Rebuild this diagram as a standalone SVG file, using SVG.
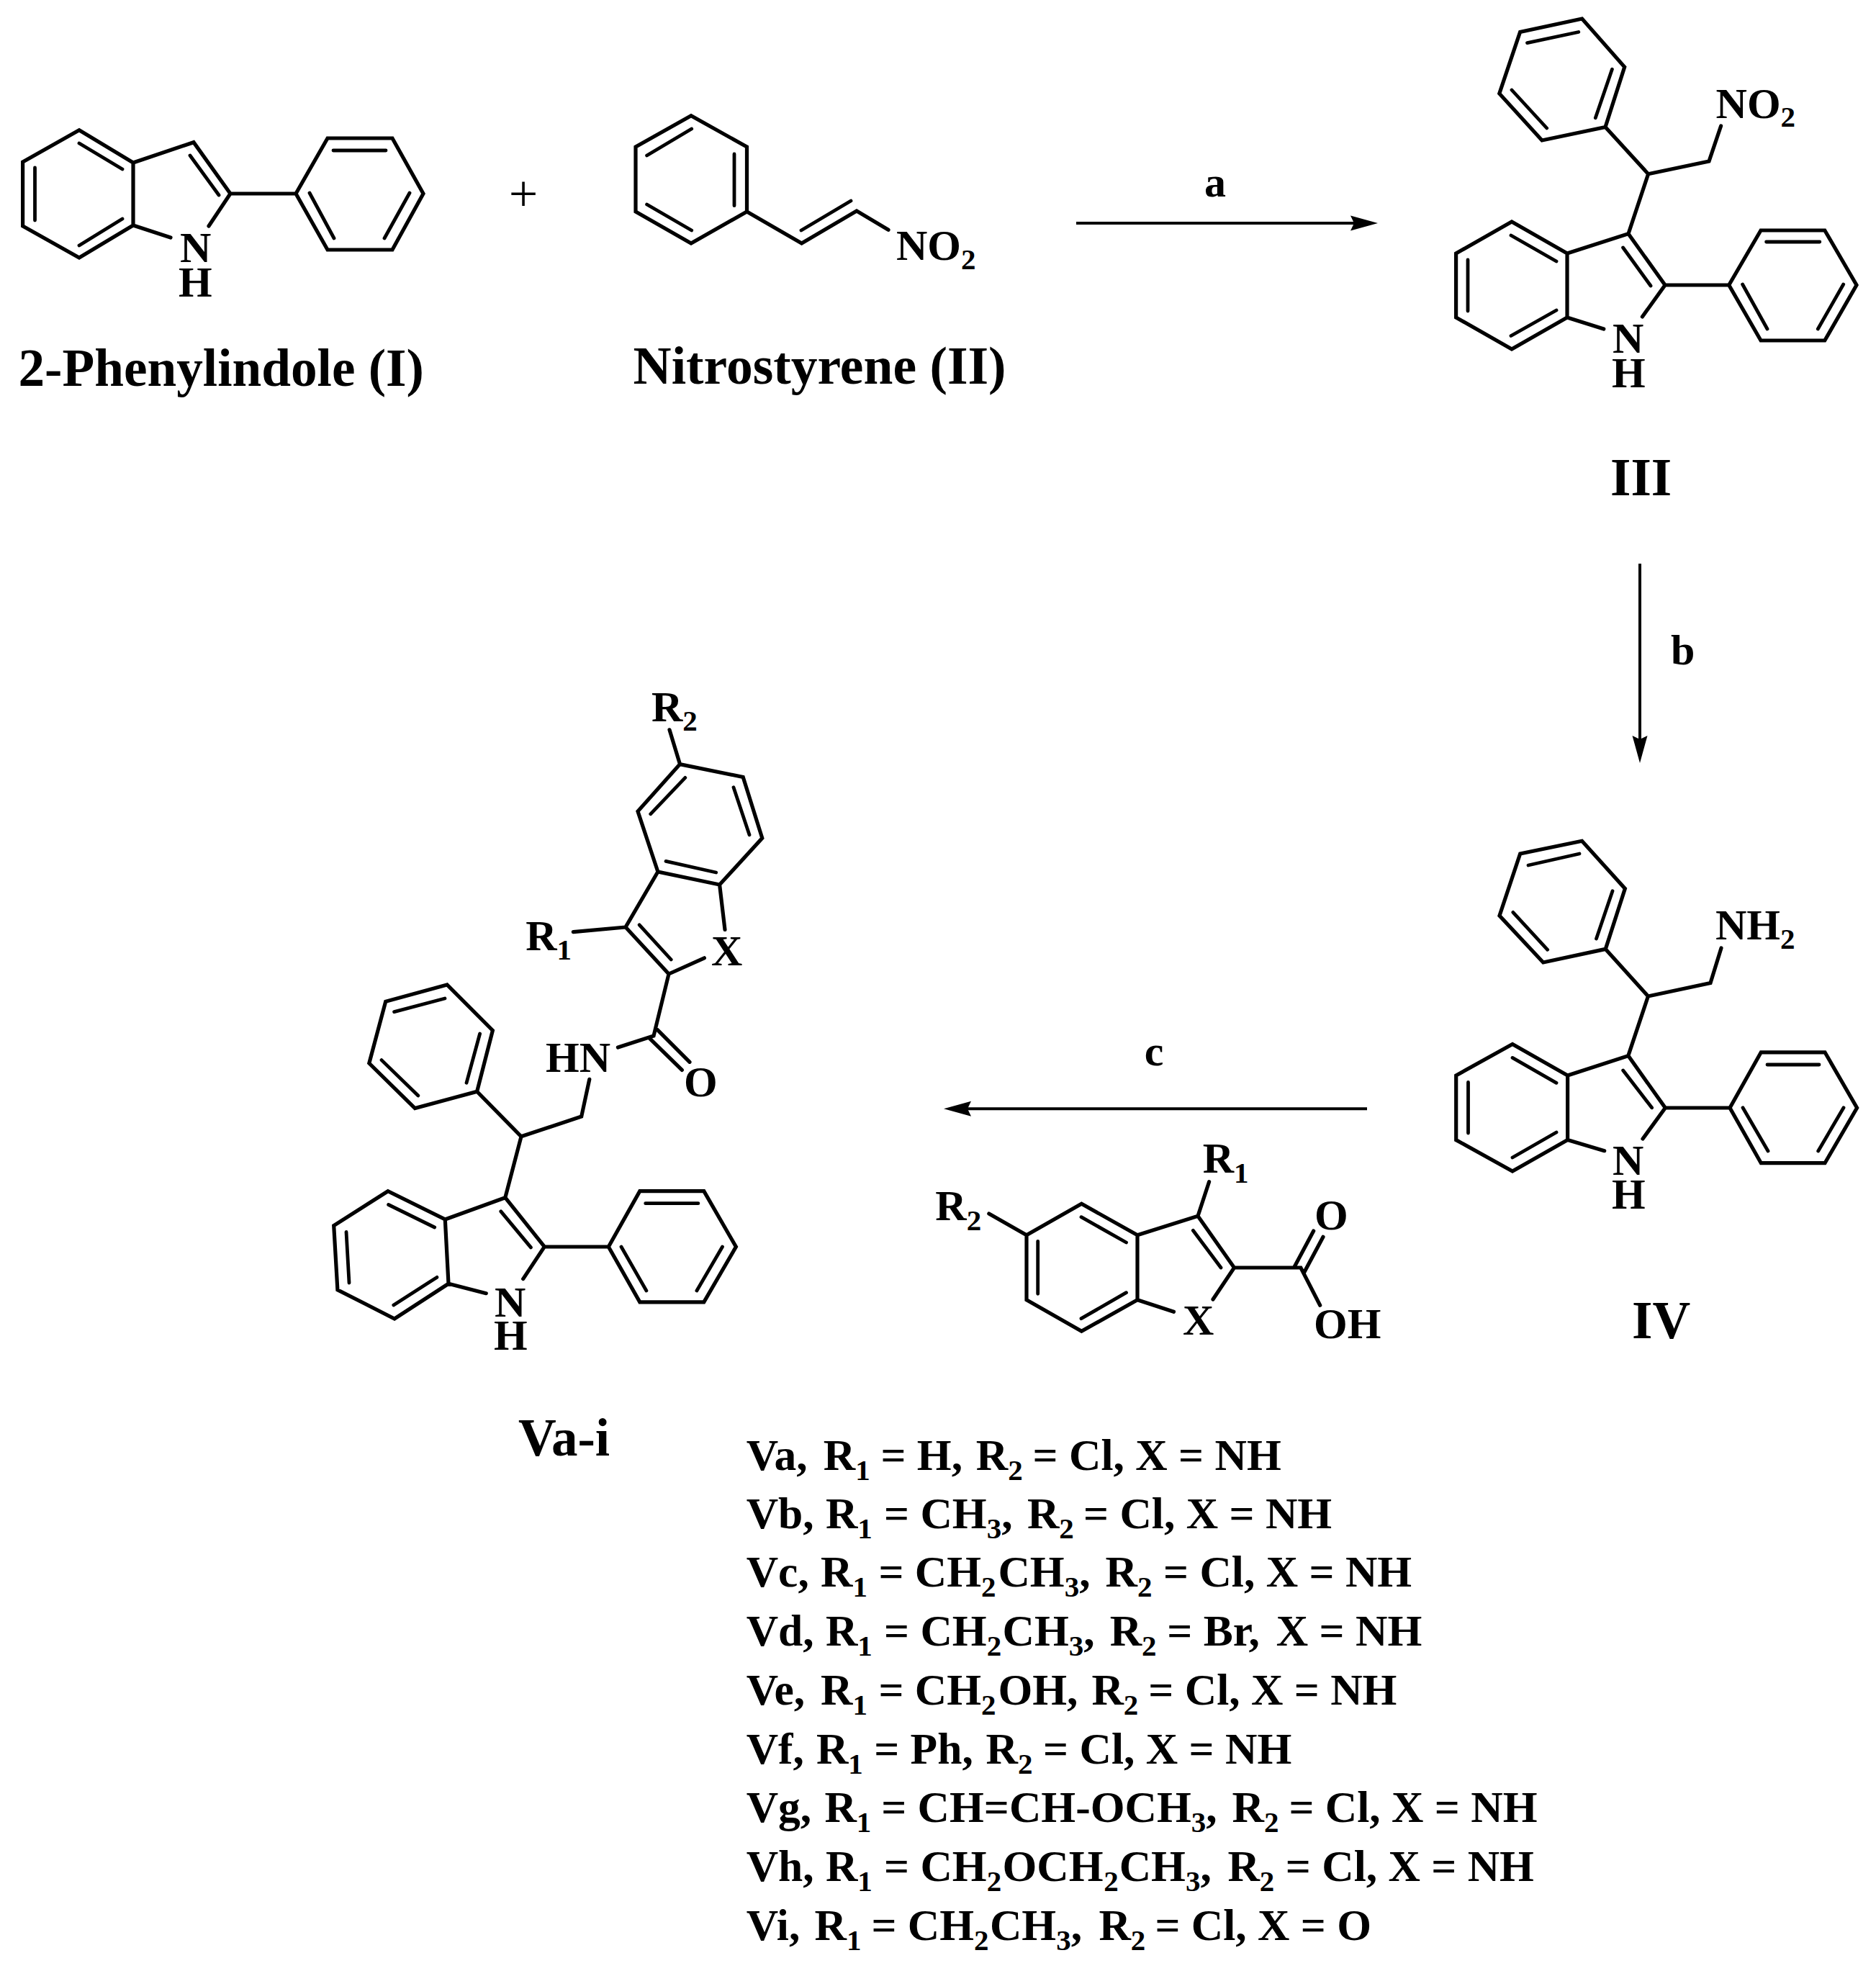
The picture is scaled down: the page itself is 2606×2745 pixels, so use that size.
<svg xmlns="http://www.w3.org/2000/svg" width="2606" height="2745" viewBox="0 0 2606 2745">
<defs>
<style>
text{font-family:"Liberation Serif","Times New Roman",serif;font-weight:bold;fill:#000;font-size:60px}
.big{font-size:73px}
.s{font-size:41px}
.list{font-size:61.5px}
.plus{font-weight:normal;font-size:72px}
.b{fill:none;stroke:#000;stroke-width:5.2;stroke-linejoin:miter;stroke-linecap:round}
.i{fill:none;stroke:#000;stroke-width:4.8;stroke-linecap:round}
.c{fill:none;stroke:#000;stroke-width:4}
</style>
<marker id="head" viewBox="0 -11 38 22" markerWidth="38" markerHeight="22" refX="5" refY="0" orient="auto" markerUnits="userSpaceOnUse"><path d="M0-10.5L38 0L0 10.5L5 0Z" fill="#000"/></marker>
</defs>
<rect width="2606" height="2745" fill="#fff"/>
<g id="connectors">
<path class="c" d="M1495 310H1881" marker-end="url(#head)"/>
<path class="c" d="M2278 783V1027" marker-end="url(#head)"/>
<path class="c" d="M1899 1540.3H1344" marker-end="url(#head)"/>
<text x="1688" y="273" text-anchor="middle">a</text>
<text x="2321" y="923">b</text>
<text x="1603" y="1480" text-anchor="middle">c</text>
</g>
<g id="compound-I">
<path class="b" d="M110 180.7L31.6 225V314L110 358L185 313V226Z M185 226L269 197.7L320 269L290 314 M185 313L237 330 M320 269H411 M411 269L455 192H545L588 269L545 347H455Z"/>
<path class="i" d="M110 199L170 235M48.5 233V306M110 341L170 304M264 216L304 271M463 209H536M430 268L464 331M569 268L534 331"/>
<text><tspan x="250" y="364">N</tspan><tspan x="248" y="412">H</tspan></text>
<text class="big" x="25.5" y="536" textLength="563.5" lengthAdjust="spacingAndGlyphs">2-Phenylindole (I)</text>
</g>
<text id="plus" class="plus" x="727" y="293" text-anchor="middle">+</text>
<g id="compound-II">
<path class="b" d="M960 160.7L883 204V294L960 338L1037.5 294V204Z M1037.5 294L1113.6 338L1190 293L1234 319.3"/>
<path class="i" d="M898.6 216L960.7 179M1020 214V285.7M898.6 284L960.7 320M1113 320L1182 279"/>
<text x="1245" y="360.7">NO<tspan class="s" dy="13">2</tspan></text>
<text class="big" x="879.6" y="533" textLength="518" lengthAdjust="spacingAndGlyphs">Nitrostyrene (II)</text>
</g>
<g id="compound-III">
<path class="b" d="M2197.7 26L2111.6 44.5L2082.8 130L2142 195L2230 176.6L2256.7 93Z M2230 176.6L2289.6 241.7L2374 224L2390.6 175 M2289.6 241.7L2262 324.8L2177 352 M2100 308L2022.6 352V441L2100 485L2177 441V352Z M2262 324.8L2313 396L2281.4 440 M2177 441L2227.8 457 M2313 396H2401.7 M2401.7 396L2446 320H2534.8L2579 396L2534.8 473H2446Z"/>
<path class="i" d="M2121.5 59.6L2192.8 44.5M2216.3 163.8L2239.4 96.3M2100 125L2148.7 178M2099 327L2162 363M2039 361V432M2099 466.5L2162 431M2254.6 344L2293 397M2453.6 336H2527.8M2420.6 395L2455 457M2560.7 395L2525.3 457"/>
<text><tspan x="2240" y="490">N</tspan><tspan x="2239" y="538">H</tspan></text>
<text x="2383.6" y="163.8">NO<tspan class="s" dy="12">2</tspan></text>
<text class="big" x="2237" y="688">III</text>
</g>
<g id="compound-IV">
<path class="b" d="M2197.6 1168.3L2111.7 1186L2083 1272L2143.7 1337L2230.3 1318.4L2257.4 1234.4Z M2230.3 1318.4L2289.4 1384L2376 1365.6L2391 1317 M2289.4 1384L2261.8 1466.6L2177.6 1494 M2101 1450.5L2022.7 1494V1583.6L2101 1627L2177.6 1583.6V1494Z M2261.8 1466.6L2313.3 1539L2282 1582 M2177.6 1583.6L2228.7 1598.7 M2313.3 1539H2403 M2403 1539L2446.3 1461.8H2535L2579.6 1539L2535 1615.7H2446.3Z"/>
<path class="i" d="M2123 1202L2194 1186M2217.5 1304L2240 1237.7M2101.8 1267.4L2149.7 1319.3M2101 1469.4L2162 1504.3M2039.5 1503.4V1574M2101 1608L2162 1573M2254.7 1487L2294.6 1538.8M2455 1479H2527M2421 1538.8L2456 1599M2561 1538.8L2525.7 1599"/>
<text><tspan x="2240" y="1632">N</tspan><tspan x="2239" y="1679.4">H</tspan></text>
<text x="2383" y="1305">NH<tspan class="s" dy="13">2</tspan></text>
<text class="big" x="2267" y="1859">IV</text>
</g>
<g id="reagent-acid">
<path class="b" d="M1373.8 1686L1426 1715.7 M1426 1715.7L1502.4 1672.3L1580 1715.7V1805.7L1502.4 1849.3L1426 1805.7Z M1580 1715.7L1664 1689.3L1714.5 1761L1685 1805 M1580 1805.7L1630.5 1822.3 M1664 1689.3L1679.6 1641.7 M1714.5 1761H1806.9L1833.7 1813.3 M1798 1760L1824.7 1710 M1811.3 1768.3L1838 1718.3"/>
<path class="i" d="M1441.7 1724.3V1797.3M1502 1690.7L1564.5 1726M1502 1831.7L1564.5 1795.7M1657.3 1709.3L1696 1761"/>
<text x="1299.3" y="1695">R<tspan class="s" dy="14">2</tspan></text>
<text x="1670.7" y="1629">R<tspan class="s" dy="14">1</tspan></text>
<text x="1826" y="1708">O</text>
<text x="1825" y="1859">OH</text>
<text x="1643" y="1854">X</text>
</g>
<g id="compound-V">
<path class="b" d="M621 1368L535.7 1391.3L512.8 1477L576.4 1539.6L662.6 1516.3L684.4 1431.5Z M662.6 1516.3L724 1578.8L807.7 1551L818.8 1499.4 M724 1578.8L701.8 1663.7L618.3 1694 M538.9 1654.7L463.7 1702.5L468.9 1791.8L548 1832L623 1783.3L618.3 1694Z M701.8 1663.7L756.3 1732L726.7 1776.6 M623 1783.3L675.3 1796.7 M756.3 1732H845.3 M845.3 1732L888.8 1654.7H977.8L1022.4 1732L977.8 1808.8H888.8Z M858.4 1455L908 1439L929 1353 M901.8 1441.8L947.3 1486.4 M913.3 1430.6L958 1475.3 M929 1353L978.4 1330.8 M929 1353L869 1288L913.9 1211 M869 1288L796.3 1294.6 M913.9 1211L886 1127L944.5 1061.6L1032.2 1079.5L1058.8 1164.3L999.6 1229Z M999.6 1229L1007 1291.5 M930 1013.8L944.5 1061.6"/>
<path class="i" d="M547.6 1405.6L618 1387M648 1504.3L666.6 1436M530 1472.6L580.8 1522M539.6 1673.5L603.7 1705M481 1711.4L485 1782M546.8 1813L606.9 1774.4M695.8 1682.9L737.4 1732.9M896.7 1671.7H969.9M863 1732L897.9 1793M1003.5 1732L967.9 1793M903.7 1130.8L951.8 1080.4M1019 1093.8L1041 1159.8M925 1196.4L994.7 1212M888.2 1284.8L932.2 1333"/>
<text><tspan x="687" y="1828.8">N</tspan><tspan x="686" y="1874.8">H</tspan></text>
<text x="758" y="1488.7">HN</text>
<text x="950" y="1523">O</text>
<text x="904.9" y="1002">R<tspan class="s" dy="13">2</tspan></text>
<text x="730.2" y="1319.6">R<tspan class="s" dy="13">1</tspan></text>
<text x="988" y="1340.6">X</text>
<text class="big" x="720" y="2022">Va-i</text>
</g>
<g id="substituent-list">
<text class="list" y="2042"><tspan x="1036.7">Va, </tspan><tspan x="1143.8">R</tspan><tspan class="s" dy="14">1 </tspan><tspan x="1223.4" dy="-14">= H, </tspan><tspan x="1355.8">R</tspan><tspan class="s" dy="14">2 </tspan><tspan x="1434.6" dy="-14">= Cl, X = NH</tspan></text>
<text class="list" y="2123"><tspan x="1036.7">Vb, </tspan><tspan x="1146.9">R</tspan><tspan class="s" dy="14">1 </tspan><tspan x="1228" dy="-14">= CH</tspan><tspan class="s" dy="14">3</tspan><tspan dy="-14">, </tspan><tspan x="1426.9">R</tspan><tspan class="s" dy="14">2 </tspan><tspan x="1505" dy="-14">= Cl, X = NH</tspan></text>
<text class="list" y="2204.4"><tspan x="1036.7">Vc, </tspan><tspan x="1140">R</tspan><tspan class="s" dy="14">1 </tspan><tspan x="1220.4" dy="-14">= CH</tspan><tspan class="s" dy="14">2</tspan><tspan x="1386.4" dy="-14">CH</tspan><tspan class="s" dy="14">3</tspan><tspan dy="-14">, </tspan><tspan x="1535.6">R</tspan><tspan class="s" dy="14">2 </tspan><tspan x="1616" dy="-14">= Cl, X = NH</tspan></text>
<text class="list" y="2286"><tspan x="1036.7">Vd, </tspan><tspan x="1146.9">R</tspan><tspan class="s" dy="14">1 </tspan><tspan x="1228" dy="-14">= CH</tspan><tspan class="s" dy="14">2</tspan><tspan x="1392.5" dy="-14">CH</tspan><tspan class="s" dy="14">3</tspan><tspan dy="-14">, </tspan><tspan x="1541.7">R</tspan><tspan class="s" dy="14">2 </tspan><tspan x="1621.3" dy="-14">= Br, </tspan><tspan x="1772.8">X = NH</tspan></text>
<text class="list" y="2368"><tspan x="1036.7">Ve, </tspan><tspan x="1140">R</tspan><tspan class="s" dy="14">1 </tspan><tspan x="1220.4" dy="-14">= CH</tspan><tspan class="s" dy="14">2</tspan><tspan x="1386.4" dy="-14">OH, </tspan><tspan x="1516.4">R</tspan><tspan class="s" dy="14">2 </tspan><tspan x="1595.3" dy="-14">= Cl, X = NH</tspan></text>
<text class="list" y="2450"><tspan x="1036.7">Vf, </tspan><tspan x="1133.9">R</tspan><tspan class="s" dy="14">1 </tspan><tspan x="1214.2" dy="-14">= Ph, </tspan><tspan x="1369.6">R</tspan><tspan class="s" dy="14">2 </tspan><tspan x="1449.1" dy="-14">= Cl, X = NH</tspan></text>
<text class="list" y="2531"><tspan x="1036.7">Vg, </tspan><tspan x="1145.4">R</tspan><tspan class="s" dy="14">1 </tspan><tspan x="1224.2" dy="-14">= CH=CH-OCH</tspan><tspan class="s" dy="14">3</tspan><tspan dy="-14">, </tspan><tspan x="1711.6">R</tspan><tspan class="s" dy="14">2 </tspan><tspan x="1790.4" dy="-14">= Cl, X = NH</tspan></text>
<text class="list" y="2612.6"><tspan x="1036.7">Vh, </tspan><tspan x="1146.9">R</tspan><tspan class="s" dy="14">1 </tspan><tspan x="1228" dy="-14">= CH</tspan><tspan class="s" dy="14">2</tspan><tspan x="1392.5" dy="-14">OCH</tspan><tspan class="s" x="1533.3" dy="14">2</tspan><tspan x="1554.7" dy="-14">CH</tspan><tspan class="s" dy="14">3</tspan><tspan dy="-14">, </tspan><tspan x="1705.4">R</tspan><tspan class="s" dy="14">2 </tspan><tspan x="1785.8" dy="-14">= Cl, X = NH</tspan></text>
<text class="list" y="2695"><tspan x="1036.7">Vi, </tspan><tspan x="1131.6">R</tspan><tspan class="s" dy="14">1 </tspan><tspan x="1210.4" dy="-14">= CH</tspan><tspan class="s" dy="14">2</tspan><tspan x="1374.9" dy="-14">CH</tspan><tspan class="s" dy="14">3</tspan><tspan dy="-14">, </tspan><tspan x="1526.4">R</tspan><tspan class="s" dy="14">2 </tspan><tspan x="1604.4" dy="-14">= Cl, X = O</tspan></text>
</g>
</svg>
